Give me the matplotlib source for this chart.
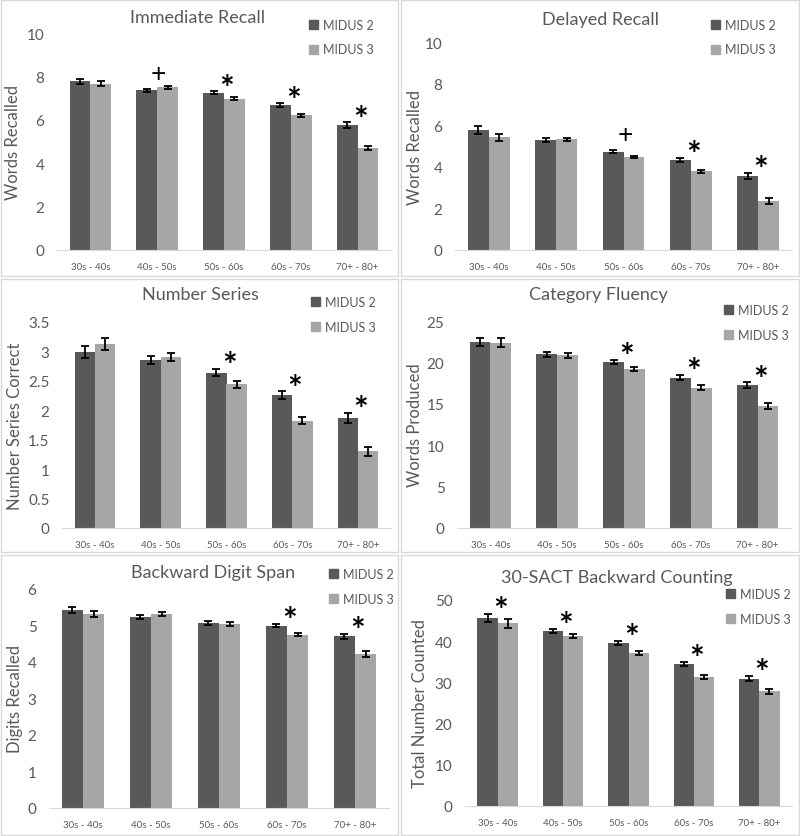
import matplotlib
matplotlib.use("Agg")
import matplotlib.pyplot as plt
from matplotlib.patches import Rectangle, Patch
import numpy as np

plt.rcParams['font.family'] = ['Lato', 'DejaVu Sans']

groups = ["30s - 40s", "40s - 50s", "50s - 60s", "60s - 70s", "70+ - 80+"]
series = ["MIDUS 2", "MIDUS 3"]

# Immediate Recall
imm_m2 = [7.77, 7.37, 7.24, 6.68, 5.76]
imm_m3 = [7.66, 7.50, 6.96, 6.21, 4.70]
imm_m2_err = [0.13, 0.07, 0.07, 0.08, 0.12]
imm_m3_err = [0.12, 0.08, 0.07, 0.08, 0.10]
imm_marks = ["", "+", "*", "*", "*"]

# Delayed Recall
del_m2 = [5.77, 5.29, 4.73, 4.34, 3.57]
del_m3 = [5.42, 5.32, 4.47, 3.79, 2.36]
del_m2_err = [0.19, 0.08, 0.07, 0.09, 0.15]
del_m3_err = [0.18, 0.08, 0.07, 0.08, 0.13]
del_marks = ["", "", "+", "*", "*"]

# Number Series
ns_m2 = [2.99, 2.86, 2.64, 2.26, 1.87]
ns_m3 = [3.12, 2.90, 2.44, 1.82, 1.30]
ns_m2_err = [0.10, 0.07, 0.06, 0.06, 0.09]
ns_m3_err = [0.10, 0.07, 0.06, 0.06, 0.08]
ns_marks = ["", "", "*", "*", "*"]

# Category Fluency
cf_m2 = [22.5, 21.0, 20.05, 18.16, 17.23]
cf_m3 = [22.4, 20.85, 19.24, 16.95, 14.73]
cf_m2_err = [0.5, 0.3, 0.25, 0.3, 0.35]
cf_m3_err = [0.5, 0.3, 0.25, 0.3, 0.35]
cf_marks = ["", "", "*", "*", "*"]

# Backward Digit Span
bds_m2 = [5.43, 5.23, 5.07, 5.00, 4.70]
bds_m3 = [5.31, 5.31, 5.04, 4.75, 4.22]
bds_m2_err = [0.09, 0.05, 0.05, 0.05, 0.07]
bds_m3_err = [0.08, 0.05, 0.05, 0.05, 0.07]
bds_marks = ["", "", "", "*", "*"]

# 30-SACT Backward Counting
sact_m2 = [45.7, 42.5, 39.5, 34.4, 30.9]
sact_m3 = [44.3, 41.2, 37.1, 31.3, 27.8]
sact_m2_err = [1.0, 0.5, 0.5, 0.5, 0.6]
sact_m3_err = [1.0, 0.5, 0.5, 0.5, 0.6]
sact_marks = ["*", "*", "*", "*", "*"]

W, H = 800, 837
DARK = "#595959"
LIGHT = "#a6a6a6"
TXT = "#595959"

fig = plt.figure(figsize=(8, 8.37), dpi=100)

# panel frames (pixels: left, top, right, bottom)
frames = [(1, 1, 398, 277), (401, 1, 799, 277),
          (1, 280, 398, 553), (401, 280, 799, 553),
          (1, 556, 398, 836), (401, 556, 799, 836)]
for l, t, r, b in frames:
    fig.patches.append(Rectangle((l / W, 1 - b / H), (r - l) / W, (b - t) / H,
                                 transform=fig.transFigure, fill=False,
                                 edgecolor="#d9d9d9", linewidth=1))

panels = [
    dict(title="Immediate Recall", ylabel="Words Recalled", m2=imm_m2, m3=imm_m3,
         e2=imm_m2_err, e3=imm_m3_err, marks=imm_marks, ylim=10, step=2,
         box=(57, 34, 391, 251), tpos=(198, 18), leg=(309, 20), labx=13),
    dict(title="Delayed Recall", ylabel="Words Recalled", m2=del_m2, m3=del_m3,
         e2=del_m2_err, e3=del_m3_err, marks=del_marks, ylim=10, step=2,
         box=(455, 43, 792, 251), tpos=(600, 20), leg=(711, 20), labx=415),
    dict(title="Number Series", ylabel="Number Series Correct", m2=ns_m2, m3=ns_m3,
         e2=ns_m2_err, e3=ns_m3_err, marks=ns_marks, ylim=3.5, step=0.5,
         box=(62, 323, 391, 529), tpos=(200, 295), leg=(311, 297), labx=15),
    dict(title="Category Fluency", ylabel="Words Produced", m2=cf_m2, m3=cf_m3,
         e2=cf_m2_err, e3=cf_m3_err, marks=cf_marks, ylim=25, step=5,
         box=(457, 322, 791, 529), tpos=(598, 295), leg=(724, 305), labx=415),
    dict(title="Backward Digit Span", ylabel="Digits Recalled", m2=bds_m2, m3=bds_m3,
         e2=bds_m2_err, e3=bds_m3_err, marks=bds_marks, ylim=6, step=1,
         box=(49, 590, 389, 809), tpos=(213, 573), leg=(329, 569), labx=15),
    dict(title="30-SACT Backward Counting", ylabel="Total Number Counted", m2=sact_m2, m3=sact_m3,
         e2=sact_m2_err, e3=sact_m3_err, marks=sact_marks, ylim=50, step=10,
         box=(465, 601, 792, 807), tpos=(617, 578), leg=(726, 589), labx=420),
]

x = np.arange(len(groups))
bw = 0.31

for p in panels:
    l, t, r, b = p["box"]
    ax = fig.add_axes([l / W, 1 - b / H, (r - l) / W, (b - t) / H])
    ax.bar(x - bw / 2, p["m2"], bw, color=DARK, label=series[0])
    ax.bar(x + bw / 2, p["m3"], bw, color=LIGHT, label=series[1])
    ax.errorbar(x - bw / 2, p["m2"], yerr=p["e2"], fmt="none", ecolor="black",
                elinewidth=1.3, capsize=3, capthick=1.3)
    ax.errorbar(x + bw / 2, p["m3"], yerr=p["e3"], fmt="none", ecolor="black",
                elinewidth=1.3, capsize=3, capthick=1.3)
    for i, m in enumerate(p["marks"]):
        if not m:
            continue
        top = p["m2"][i] + p["e2"][i]
        if m == "*":
            ax.annotate(m, xy=(x[i] + 0.04, top), xytext=(0, 2), textcoords="offset points",
                        ha="center", va="center", fontsize=25, fontweight="bold", color="black")
        else:
            ax.annotate(m, xy=(x[i] + 0.02, top), xytext=(0, 2), textcoords="offset points",
                        ha="center", va="bottom", fontsize=19, color="black")
    ax.set_xlim(-0.5, len(groups) - 0.5)
    ax.set_ylim(0, p["ylim"])
    ticks = np.arange(0, p["ylim"] + p["step"] / 2, p["step"])
    ax.set_yticks(ticks)
    ax.set_yticklabels([f"{v:g}" for v in ticks])
    ax.set_xticks(x)
    ax.set_xticklabels(groups)
    ax.tick_params(axis="y", length=0, pad=9, labelsize=11, labelcolor=TXT)
    ax.tick_params(axis="x", length=0, pad=9, labelsize=7, labelcolor=TXT)
    for s in ["top", "right", "left"]:
        ax.spines[s].set_visible(False)
    ax.spines["bottom"].set_color("#d9d9d9")
    ax.set_ylabel(p["ylabel"], fontsize=12, color=TXT)
    ax.yaxis.set_label_coords((p["labx"] + 8 - l) / (r - l), 0.5)
    fig.text(p["tpos"][0] / W, 1 - p["tpos"][1] / H, p["title"], ha="center", va="center",
             fontsize=13, color=TXT)
    lx, ly = p["leg"]
    ax.legend(handles=[Patch(color=DARK), Patch(color=LIGHT)], labels=series,
              loc="upper left", bbox_to_anchor=(lx / W, 1 - ly / H),
              bbox_transform=fig.transFigure, frameon=False, fontsize=9,
              handlelength=0.7, handleheight=0.7, handletextpad=0.4,
              labelspacing=1.0, borderpad=0, borderaxespad=0, labelcolor=TXT)

fig.savefig("out.png", dpi=100)
